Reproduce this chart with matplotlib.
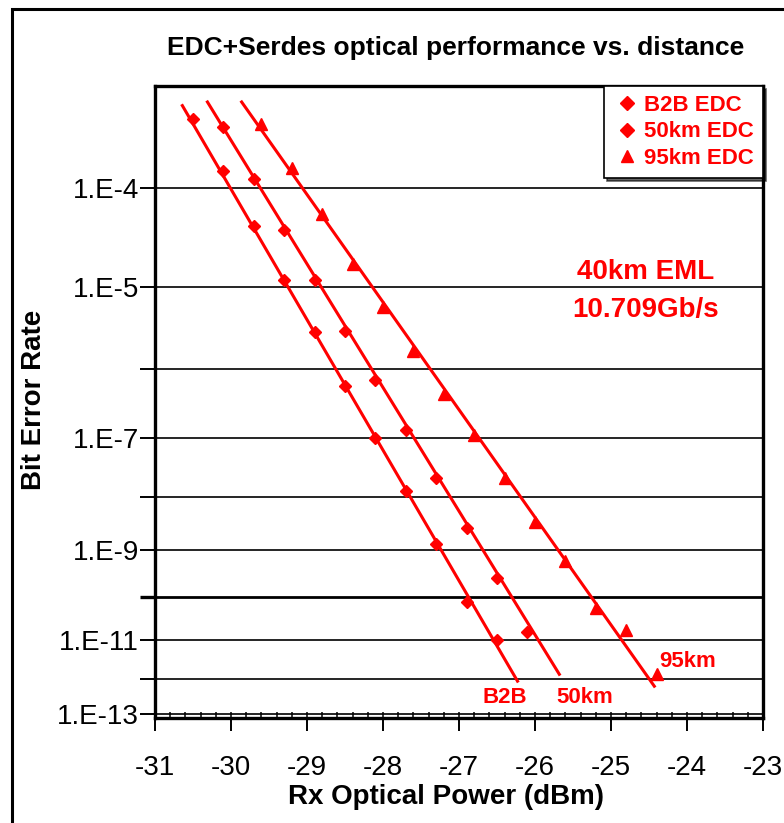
import numpy as np
import matplotlib
matplotlib.use('Agg')
import matplotlib.pyplot as plt
from matplotlib.lines import Line2D
from matplotlib.patches import Rectangle
from matplotlib.ticker import MultipleLocator, NullLocator

plt.rcParams['font.family'] = ['Liberation Sans', 'DejaVu Sans']
plt.rcParams['axes.unicode_minus'] = False

# measured points (Rx power in dBm, bit error rate)
b2b_power = [-30.5, -30.1, -29.7, -29.3, -28.9, -28.5, -28.1, -27.7, -27.3, -26.9, -26.5]
b2b_ber = [3.7e-4, 1.4e-4, 4.4e-5, 1.2e-5, 3.0e-6, 5.9e-7, 1.0e-7, 1.3e-8, 1.3e-9, 7.6e-11, 1.0e-11]

km50_power = [-30.1, -29.7, -29.3, -28.9, -28.5, -28.1, -27.7, -27.3, -26.9, -26.5, -26.1]
km50_ber = [3.2e-4, 1.2e-4, 4.0e-5, 1.2e-5, 3.1e-6, 7.0e-7, 1.3e-7, 2.2e-8, 2.7e-9, 2.6e-10, 1.5e-11]

km95_power = [-29.6, -29.2, -28.8, -28.4, -28.0, -27.6, -27.2, -26.8, -26.4, -26.0, -25.6, -25.2, -24.8, -24.4]
km95_ber = [3.4e-4, 1.5e-4, 5.7e-5, 1.8e-5, 6.0e-6, 1.7e-6, 4.5e-7, 1.1e-7, 2.2e-8, 3.6e-9, 5.9e-10,
            5.7e-11, 1.7e-11, 1.3e-12]

# end points of the straight fit lines
b2b_fit_power = [-30.64, -26.23]
b2b_fit_ber = [4.7e-4, 8.5e-13]
km50_fit_power = [-30.31, -25.68]
km50_fit_ber = [5.0e-4, 1.3e-12]
km95_fit_power = [-29.86, -24.43]
km95_fit_ber = [5.0e-4, 6.2e-13]

# y axis
ber_ticks = [1e-4, 1e-5, 1e-6, 1e-7, 1e-8, 1e-9, 1e-10, 1e-11, 1e-12, 1e-13]
ber_tick_labels = ['1.E-4', '1.E-5', '', '1.E-7', '', '1.E-9', '', '1.E-11', '', '1.E-13']
x_ticks = [-31, -30, -29, -28, -27, -26, -25, -24, -23]

legend_labels = ['B2B EDC', '50km EDC', '95km EDC']
legend_markers = ['D', 'D', '^']


# BER scale: -log10(-log10(BER)) keeps the waterfall curves straight
def ber_fwd(y):
    y = np.clip(np.asarray(y, dtype=float), 1e-300, 0.999999)
    return -np.log10(-np.log10(y))


def ber_inv(v):
    return 10 ** (-(10 ** (-np.asarray(v, dtype=float))))


fig = plt.figure(figsize=(7.84, 8.23), dpi=100)
ax = fig.add_axes([0.1977, 0.1276, 0.7755, 0.7679])
ax.set_ylim(7.8e-14, 6.53e-4)
ax.set_yscale('function', functions=(ber_fwd, ber_inv))
ax.set_ylim(7.8e-14, 6.53e-4)
ax.set_xlim(-31, -23)

# grid lines, 1E-10 drawn heavier
for b in ber_ticks:
    ax.axhline(b, color='black', lw=2.0 if b == 1e-10 else 1.2, zorder=1)

red = '#ff0000'
ax.plot(b2b_fit_power, b2b_fit_ber, color=red, lw=2.2, zorder=3)
ax.plot(km50_fit_power, km50_fit_ber, color=red, lw=2.2, zorder=3)
ax.plot(km95_fit_power, km95_fit_ber, color=red, lw=2.2, zorder=3)
ax.plot(b2b_power, b2b_ber, ls='none', marker='D', ms=6, color=red, zorder=4)
ax.plot(km50_power, km50_ber, ls='none', marker='D', ms=6, color=red, zorder=4)
ax.plot(km95_power, km95_ber, ls='none', marker='^', ms=8.5, color=red, zorder=4)

ax.set_xlim(-31, -23)
ax.set_ylim(7.8e-14, 6.53e-4)

ax.set_xticks(x_ticks)
ax.set_xticklabels([str(t) for t in x_ticks])
ax.xaxis.set_minor_locator(MultipleLocator(0.2))
ax.xaxis.remove_overlapping_locs = False
ax.tick_params(axis='x', which='major', direction='out', length=9, width=1.4, pad=18, labelsize=20)
ax.tick_params(axis='x', which='minor', direction='in', length=4.5, width=1.1)

ax.set_yticks(ber_ticks)
ax.set_yticklabels(ber_tick_labels)
ax.yaxis.set_minor_locator(NullLocator())
ax.tick_params(axis='y', which='major', direction='out', length=11, width=1.4, pad=0.5, labelsize=20)
ax.yaxis.get_major_ticks()[6].tick1line.set_markeredgewidth(2.4)

for s in ax.spines.values():
    s.set_linewidth(2.4)

ax.set_xlabel('Rx Optical Power (dBm)', fontsize=20, fontweight='bold')
ax.xaxis.set_label_coords(0.479, -0.105)
ax.set_ylabel('Bit Error Rate', fontsize=20, fontweight='bold')
ax.yaxis.set_label_coords(-0.178, 0.503)

fig.text(0.5816, 0.942, 'EDC+Serdes optical performance vs. distance',
         fontsize=19, fontweight='bold', ha='center', va='center')

# labels inside the plot
ax.text(0.5757, 0.033, 'B2B', transform=ax.transAxes, color=red, fontsize=16,
        fontweight='bold', ha='center', va='center')
ax.text(0.7072, 0.033, '50km', transform=ax.transAxes, color=red, fontsize=16,
        fontweight='bold', ha='center', va='center')
ax.text(0.8766, 0.090, '95km', transform=ax.transAxes, color=red, fontsize=16,
        fontweight='bold', ha='center', va='center')
ax.text(0.8076, 0.706, '40km EML', transform=ax.transAxes, color=red, fontsize=20,
        fontweight='bold', ha='center', va='center')
ax.text(0.8076, 0.646, '10.709Gb/s', transform=ax.transAxes, color=red, fontsize=20,
        fontweight='bold', ha='center', va='center')

# legend with markers only
handles = [Line2D([], [], marker=m, ls='none', color=red, ms=7 if m == 'D' else 9)
           for m in legend_markers]
leg = ax.legend(handles, legend_labels, loc='upper right', borderaxespad=0, fancybox=False,
                edgecolor='black', framealpha=1, labelcolor=red,
                prop={'weight': 'bold', 'size': 16},
                handlelength=1.2, handletextpad=0.2, labelspacing=0.25, borderpad=0.4,
                shadow={'color': 'black', 'alpha': 0.6})
leg.get_frame().set_linewidth(1.2)
leg.set_zorder(5)

# outer frame of the slide picture
fig.add_artist(Rectangle((12 / 784, -0.1), 1.5, 1.1 - 9 / 823, transform=fig.transFigure,
                         fill=False, lw=2.2, edgecolor='black', clip_on=False))

fig.savefig('out.png', dpi=100)
